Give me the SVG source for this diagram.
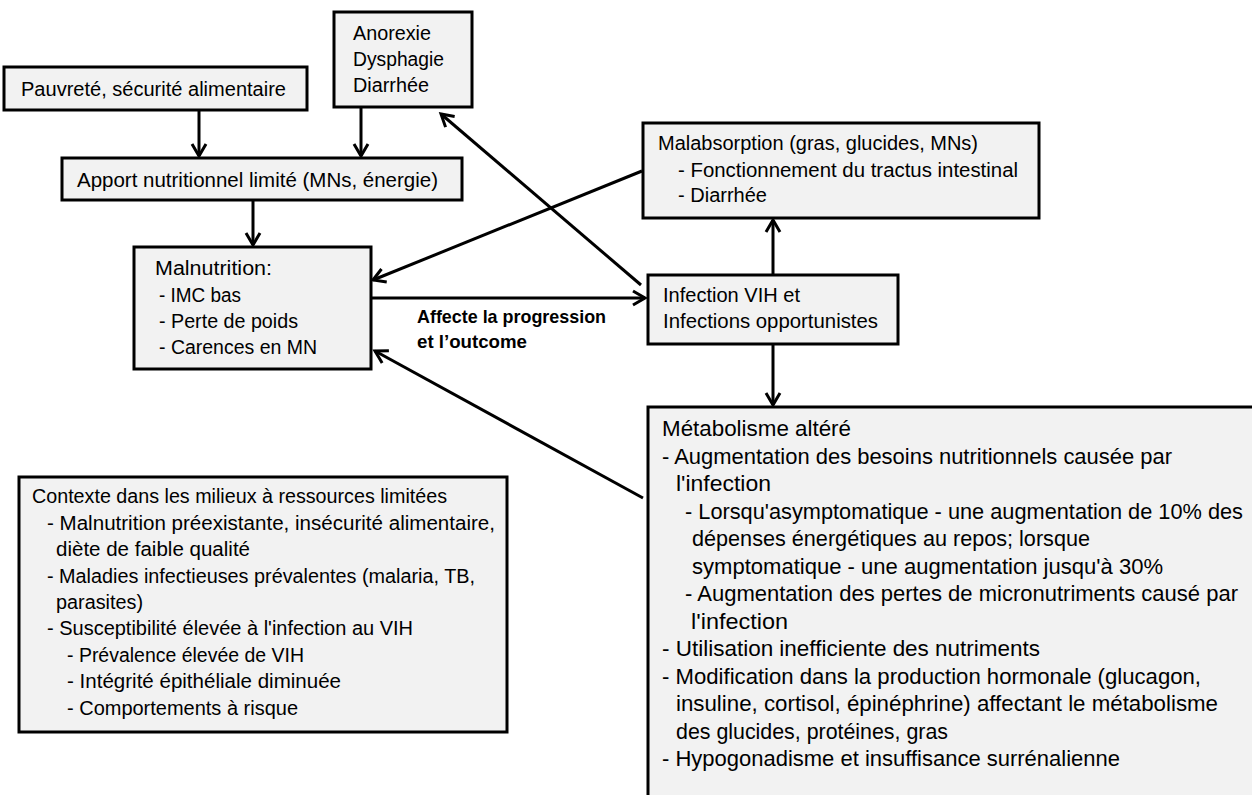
<svg xmlns="http://www.w3.org/2000/svg" width="1252" height="795" viewBox="0 0 1252 795">
  <defs>
    <style>
      .box { fill: #f2f2f2; stroke: #000; stroke-width: 3; }
      .t { font-family: "Liberation Sans", Arial, sans-serif; font-size: 19.5px; fill: #000; }
      .tm { font-size: 21.2px; }
      .lbl { font-family: "Liberation Sans", Arial, sans-serif; font-size: 19px; font-weight: bold; fill: #000; }
      .conn line { stroke: #000; stroke-width: 3; fill: none; marker-end: url(#ah); }
    </style>
    <!-- open chevron arrowhead -->
    <marker id="ah" viewBox="-16 -10 20 20" refX="0" refY="0" markerWidth="20" markerHeight="20" markerUnits="userSpaceOnUse" orient="auto" overflow="visible">
      <path d="M-12,-7 L0,0 L-12,7" fill="none" stroke="#000" stroke-width="3"/>
    </marker>
  </defs>

  <rect width="1252" height="795" fill="#fff"/>

  <!-- connectors -->
  <g id="connectors" class="conn">
    <line x1="199" y1="110" x2="199" y2="156"/>
    <line x1="361" y1="107" x2="361" y2="156"/>
    <line x1="253" y1="200" x2="253" y2="245"/>
    <line x1="641" y1="285" x2="441" y2="114"/>
    <line x1="642" y1="171" x2="373" y2="280"/>
    <line x1="371" y1="298" x2="645" y2="298"/>
    <line x1="773" y1="275" x2="773" y2="220"/>
    <line x1="773" y1="344" x2="773" y2="405"/>
    <line x1="643" y1="498" x2="375" y2="351"/>
  </g>

  <g id="pauvrete">
    <rect class="box" x="4" y="67" width="303" height="43"/>
    <text class="t" x="21" y="96" textLength="265" lengthAdjust="spacingAndGlyphs">Pauvreté, sécurité alimentaire</text>
  </g>

  <g id="anorexie">
    <rect class="box" x="334" y="12" width="138" height="95"/>
    <text class="t" x="353" y="40" textLength="78" lengthAdjust="spacingAndGlyphs">Anorexie</text>
    <text class="t" x="353" y="66" textLength="91" lengthAdjust="spacingAndGlyphs">Dysphagie</text>
    <text class="t" x="353" y="92" textLength="76" lengthAdjust="spacingAndGlyphs">Diarrhée</text>
  </g>

  <g id="apport">
    <rect class="box" x="62" y="158" width="400" height="42"/>
    <text class="t" x="77" y="187" textLength="361" lengthAdjust="spacingAndGlyphs">Apport nutritionnel limité (MNs, énergie)</text>
  </g>

  <g id="malnutrition">
    <rect class="box" x="134" y="247" width="237" height="122"/>
    <text class="t" x="155" y="275" textLength="117" lengthAdjust="spacingAndGlyphs">Malnutrition:</text>
    <text class="t" x="159" y="302" textLength="82" lengthAdjust="spacingAndGlyphs">- IMC bas</text>
    <text class="t" x="159" y="328" textLength="139" lengthAdjust="spacingAndGlyphs">- Perte de poids</text>
    <text class="t" x="159" y="354" textLength="158" lengthAdjust="spacingAndGlyphs">- Carences en MN</text>
  </g>

  <g id="malabsorption">
    <rect class="box" x="643" y="123" width="396" height="95"/>
    <text class="t" x="658" y="150" textLength="320" lengthAdjust="spacingAndGlyphs">Malabsorption (gras, glucides, MNs)</text>
    <text class="t" x="678" y="177" textLength="340" lengthAdjust="spacingAndGlyphs">- Fonctionnement du tractus intestinal</text>
    <text class="t" x="678" y="202" textLength="89" lengthAdjust="spacingAndGlyphs">- Diarrhée</text>
  </g>

  <g id="infection">
    <rect class="box" x="648" y="275" width="250" height="69"/>
    <text class="t" x="663" y="302" textLength="137" lengthAdjust="spacingAndGlyphs">Infection VIH et</text>
    <text class="t" x="663" y="328" textLength="215" lengthAdjust="spacingAndGlyphs">Infections opportunistes</text>
  </g>

  <g id="label-progression">
    <text class="lbl" x="417" y="323" textLength="189" lengthAdjust="spacingAndGlyphs">Affecte la progression</text>
    <text class="lbl" x="417" y="348" textLength="110" lengthAdjust="spacingAndGlyphs">et l’outcome</text>
  </g>

  <g id="contexte">
    <rect class="box" x="19" y="477" width="488" height="255"/>
    <text class="t" x="32" y="503" textLength="415" lengthAdjust="spacingAndGlyphs">Contexte dans les milieux à ressources limitées</text>
    <text class="t" x="47" y="530" textLength="448" lengthAdjust="spacingAndGlyphs">- Malnutrition préexistante, insécurité alimentaire,</text>
    <text class="t" x="56" y="556" textLength="194" lengthAdjust="spacingAndGlyphs">diète de faible qualité</text>
    <text class="t" x="47" y="583" textLength="428" lengthAdjust="spacingAndGlyphs">- Maladies infectieuses prévalentes (malaria, TB,</text>
    <text class="t" x="56" y="609" textLength="87" lengthAdjust="spacingAndGlyphs">parasites)</text>
    <text class="t" x="47" y="635" textLength="366" lengthAdjust="spacingAndGlyphs">- Susceptibilité élevée à l'infection au VIH</text>
    <text class="t" x="67" y="662" textLength="237" lengthAdjust="spacingAndGlyphs">- Prévalence élevée de VIH</text>
    <text class="t" x="67" y="688" textLength="274" lengthAdjust="spacingAndGlyphs">- Intégrité épithéliale diminuée</text>
    <text class="t" x="67" y="715" textLength="231" lengthAdjust="spacingAndGlyphs">- Comportements à risque</text>
  </g>

  <g id="metabolisme">
    <rect class="box" x="648" y="407" width="620" height="400"/>
    <text class="t tm" x="662" y="436" textLength="189" lengthAdjust="spacingAndGlyphs">Métabolisme altéré</text>
    <text class="t tm" x="662" y="463.5" textLength="510" lengthAdjust="spacingAndGlyphs">- Augmentation des besoins nutritionnels causée par</text>
    <text class="t tm" x="676" y="491" textLength="95" lengthAdjust="spacingAndGlyphs">l'infection</text>
    <text class="t tm" x="685" y="518.5" textLength="558" lengthAdjust="spacingAndGlyphs">- Lorsqu'asymptomatique - une augmentation de 10% des</text>
    <text class="t tm" x="692" y="546" textLength="398" lengthAdjust="spacingAndGlyphs">dépenses énergétiques au repos; lorsque</text>
    <text class="t tm" x="692" y="573.5" textLength="471" lengthAdjust="spacingAndGlyphs">symptomatique - une augmentation jusqu'à 30%</text>
    <text class="t tm" x="685" y="601" textLength="553" lengthAdjust="spacingAndGlyphs">- Augmentation des pertes de micronutriments causé par</text>
    <text class="t tm" x="691" y="628.5" textLength="97" lengthAdjust="spacingAndGlyphs">l'infection</text>
    <text class="t tm" x="662" y="656" textLength="378" lengthAdjust="spacingAndGlyphs">- Utilisation inefficiente des nutriments</text>
    <text class="t tm" x="662" y="683.5" textLength="539" lengthAdjust="spacingAndGlyphs">- Modification dans la production hormonale (glucagon,</text>
    <text class="t tm" x="676" y="711" textLength="542" lengthAdjust="spacingAndGlyphs">insuline, cortisol, épinéphrine) affectant le métabolisme</text>
    <text class="t tm" x="676" y="738.5" textLength="272" lengthAdjust="spacingAndGlyphs">des glucides, protéines, gras</text>
    <text class="t tm" x="662" y="766" textLength="458" lengthAdjust="spacingAndGlyphs">- Hypogonadisme et insuffisance surrénalienne</text>
  </g>
</svg>
